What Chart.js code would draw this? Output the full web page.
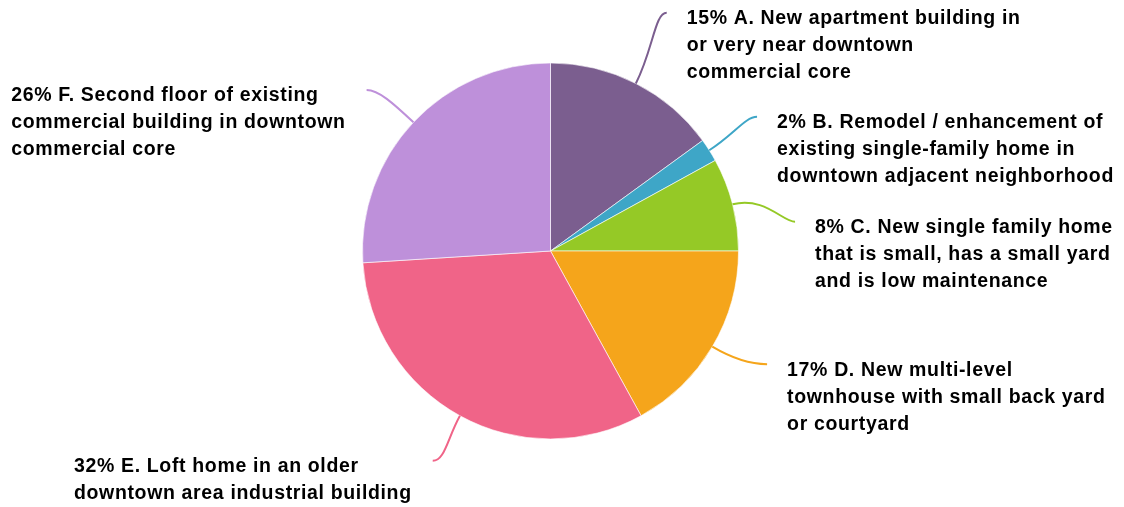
<!DOCTYPE html>
<html>
<head>
<meta charset="utf-8">
<script src="https://cdn.jsdelivr.net/npm/chart.js@4"></script>
<style>
    html, body { margin: 0; padding: 0; background: #fff; }
    #wrap { width: 1124px; height: 507px; position: relative; }
</style>
</head>
<body>
<div id="wrap"><canvas id="pieChart"></canvas></div>
<script>
/* =======================================================
   DATA
   ======================================================= */
const categories = ["A", "B", "C", "D", "E", "F"];
const values = [15, 2, 8, 17, 32, 26];
const labelLines = [
    ["A. New apartment building in", "or very near downtown", "commercial core"],
    ["B. Remodel / enhancement of", "existing single-family home in", "downtown adjacent neighborhood"],
    ["C. New single family home", "that is small, has a small yard", "and is low maintenance"],
    ["D. New multi-level", "townhouse with small back yard", "or courtyard"],
    ["E. Loft home in an older", "downtown area industrial building"],
    ["F. Second floor of existing", "commercial building in downtown", "commercial core"]
];
const colors = ["#7b5e8f", "#3ea6c7", "#95c926", "#f5a51b", "#f06488", "#be90da"];

/* =======================================================
   LEADER LINE LABELS
   ======================================================= */
const leaderLabels = {
    id: "leaderLabels",
    afterDraw(chart, args, opts) {
        const ctx = chart.ctx;
        const arcs = chart.getDatasetMeta(0).data;
        ctx.save();
        ctx.font = opts.font;
        ctx.letterSpacing = opts.spacing;
        arcs.forEach((arc, i) => {
            const r = arc.outerRadius;
            const mid = (arc.startAngle + arc.endAngle) / 2;
            const a2 = mid + opts.nudge[i] * Math.PI / 180;
            const ex = arc.x + Math.cos(mid) * r;
            const ey = arc.y + Math.sin(mid) * r;
            const tx = arc.x + Math.cos(a2) * r * opts.reach[i];
            const ty = arc.y + Math.sin(a2) * r * opts.reach[i];
            const side = tx >= arc.x ? 1 : -1;
            const len = Math.hypot(tx - ex, ty - ey);

            // curved leader
            ctx.strokeStyle = colors[i];
            ctx.lineWidth = 2;
            ctx.beginPath();
            ctx.moveTo(ex, ey);
            ctx.bezierCurveTo(
                ex + Math.cos(mid) * len * 0.5, ey + Math.sin(mid) * len * 0.5,
                tx - side * 12, ty,
                tx, ty
            );
            ctx.stroke();

            // text block
            const lines = labelLines[i].slice();
            lines[0] = values[i] + "% " + lines[0];
            const w = Math.max(...lines.map(l => ctx.measureText(l).width));
            const x = side > 0 ? tx + 20 : tx - 21 - w;
            ctx.fillStyle = "#000";
            ctx.textAlign = "left";
            ctx.textBaseline = "middle";
            lines.forEach((l, k) => ctx.fillText(l, x, ty + 6 + k * 27));
        });
        ctx.restore();
    }
};

new Chart(document.getElementById("pieChart"), {
    type: "pie",
    data: {
        labels: categories,
        datasets: [{
            data: values,
            backgroundColor: colors,
            borderColor: "rgba(255,255,255,0.6)",
            borderWidth: 1
        }]
    },
    options: {
        responsive: true,
        maintainAspectRatio: false,
        animation: false,
        layout: { padding: { left: 362, right: 385, top: 62, bottom: 67 } },
        plugins: {
            legend: { display: false },
            tooltip: { enabled: false },
            leaderLabels: {
                font: "bold 19.5px 'Liberation Sans', Arial, sans-serif",
                spacing: "0.65px",
                nudge: [-1, -0.6, 7.6, -3, 0.5, -2],
                reach: [1.41, 1.31, 1.31, 1.30, 1.28, 1.30]
            }
        }
    },
    plugins: [leaderLabels]
});
</script>
</body>
</html>
